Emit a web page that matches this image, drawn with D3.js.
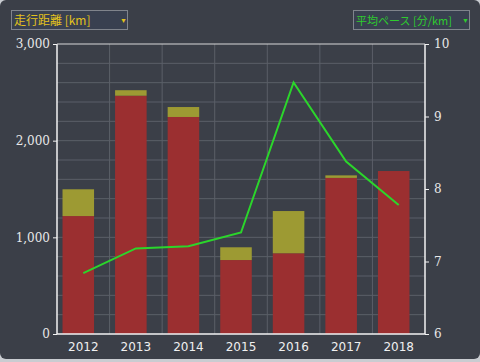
<!DOCTYPE html>
<html>
<head>
<meta charset="utf-8">
<script src="https://cdn.jsdelivr.net/npm/d3@7"></script>
<style>
  body { margin: 0; background: #c9ccd1; }
  svg { display: block; }
</style>
</head>
<body>
<svg width="480" height="362"></svg>
<script>
var years = ["2012", "2013", "2014", "2015", "2016", "2017", "2018"];
var runKm = [1220, 2465, 2245, 765, 835, 1615, 1686];
var extraKm = [277, 57, 103, 132, 437, 26, 0];
var pace = [6.84, 7.18, 7.21, 7.40, 9.47, 8.38, 7.78];
var leftTicks = [0, 1000, 2000, 3000];
var rightTicks = [6, 7, 8, 9, 10];

var svg = d3.select("svg"),
    margin = {top: 44, right: 55, bottom: 28, left: 57},
    width = 480 - margin.left - margin.right,
    height = 362 - margin.top - margin.bottom;

svg.append("rect")
    .attr("x", 0).attr("y", 0)
    .attr("width", 480).attr("height", 359)
    .attr("rx", 6)
    .attr("fill", "#3b3f48");

var g = svg.append("g").attr("transform", "translate(" + margin.left + "," + margin.top + ")");

var x = d3.scaleBand().domain(years).range([0, width]).padding(0);
var yL = d3.scaleLinear().domain([0, 3000]).range([height, 0]);
var yR = d3.scaleLinear().domain([6, 10]).range([height, 0]);

// grid
g.selectAll(".hgrid")
    .data(d3.range(200, 3000, 200))
    .enter().append("line")
      .attr("x1", 0).attr("x2", width)
      .attr("y1", function(d) { return yL(d); })
      .attr("y2", function(d) { return yL(d); })
      .attr("stroke", "#5b5f68").attr("stroke-width", 1);

g.selectAll(".vgrid")
    .data(years.slice(1))
    .enter().append("line")
      .attr("x1", function(d) { return x(d); })
      .attr("x2", function(d) { return x(d); })
      .attr("y1", 0).attr("y2", height)
      .attr("stroke", "#5b5f68").attr("stroke-width", 1);

// bars
var bw = x.bandwidth() * 0.6;
var bars = g.selectAll(".bar")
    .data(years)
    .enter().append("g");

bars.append("rect")
    .attr("x", function(d) { return x(d) + x.bandwidth() / 2 - 5 - bw / 2; })
    .attr("width", bw)
    .attr("y", function(d, i) { return yL(runKm[i]); })
    .attr("height", function(d, i) { return height - yL(runKm[i]); })
    .attr("fill", "#9b2f30");

bars.append("rect")
    .attr("x", function(d) { return x(d) + x.bandwidth() / 2 - 5 - bw / 2; })
    .attr("width", bw)
    .attr("y", function(d, i) { return yL(runKm[i] + extraKm[i]); })
    .attr("height", function(d, i) { return yL(runKm[i]) - yL(runKm[i] + extraKm[i]); })
    .attr("fill", "#9d9a33");

// pace line
var line = d3.line()
    .x(function(d, i) { return x(years[i]) + x.bandwidth() / 2; })
    .y(function(d) { return yR(d); });

g.append("path")
    .datum(pace)
    .attr("d", line)
    .attr("fill", "none")
    .attr("stroke", "#2bd62b")
    .attr("stroke-width", 2);

// axes frame
g.append("path")
    .attr("d", "M0,0V" + height + "H" + width + "V0")
    .attr("fill", "none")
    .attr("stroke", "#f2f2f2")
    .attr("stroke-width", 1.5);
g.append("line")
    .attr("x1", 0).attr("x2", width).attr("y1", 0).attr("y2", 0)
    .attr("stroke", "#d8d8d8").attr("stroke-width", 1);

var fmt = d3.format(",");
var leftAxis = g.append("g")
    .call(d3.axisLeft(yL).tickValues(leftTicks).tickFormat(fmt).tickSize(4).tickPadding(3));
var rightAxis = g.append("g")
    .attr("transform", "translate(" + width + ",0)")
    .call(d3.axisRight(yR).tickValues(rightTicks).tickFormat(d3.format("d")).tickSize(4).tickPadding(5));
var bottomAxis = g.append("g")
    .attr("transform", "translate(0," + height + ")")
    .call(d3.axisBottom(x).tickSize(0).tickPadding(8));

[leftAxis, rightAxis].forEach(function(a) {
  a.select(".domain").remove();
  a.selectAll("line").attr("stroke", "#f2f2f2");
  a.selectAll("text")
      .attr("fill", "#e8e8e8")
      .style("font-family", "'DejaVu Serif', serif")
      .style("font-size", "12px");
});
bottomAxis.select(".domain").remove();
bottomAxis.selectAll("text")
    .attr("fill", "#f0f0f0")
    .style("font-family", "'DejaVu Sans', sans-serif")
    .style("font-size", "12px");

// dropdown selectors
function dropdown(x0, label, color, size) {
  var d = svg.append("g").attr("transform", "translate(" + x0 + ",10)");
  d.append("rect")
      .attr("x", 0.5).attr("y", 0.5)
      .attr("width", 116).attr("height", 19)
      .attr("fill", "#394050")
      .attr("stroke", "#80848c");
  d.append("text")
      .attr("x", 3).attr("y", 14.5)
      .attr("fill", color)
      .style("font-family", "'Noto Sans CJK JP', sans-serif")
      .style("font-size", size + "px")
      .text(label);
  d.append("text")
      .attr("x", 109).attr("y", 13)
      .attr("fill", color)
      .style("font-size", "7px")
      .text("▼");
}
dropdown(11, "走行距離 [km]", "#e3c21c", 12);
dropdown(353, "平均ペース [分/km]", "#2ecc2e", 11);
</script>
</body>
</html>
